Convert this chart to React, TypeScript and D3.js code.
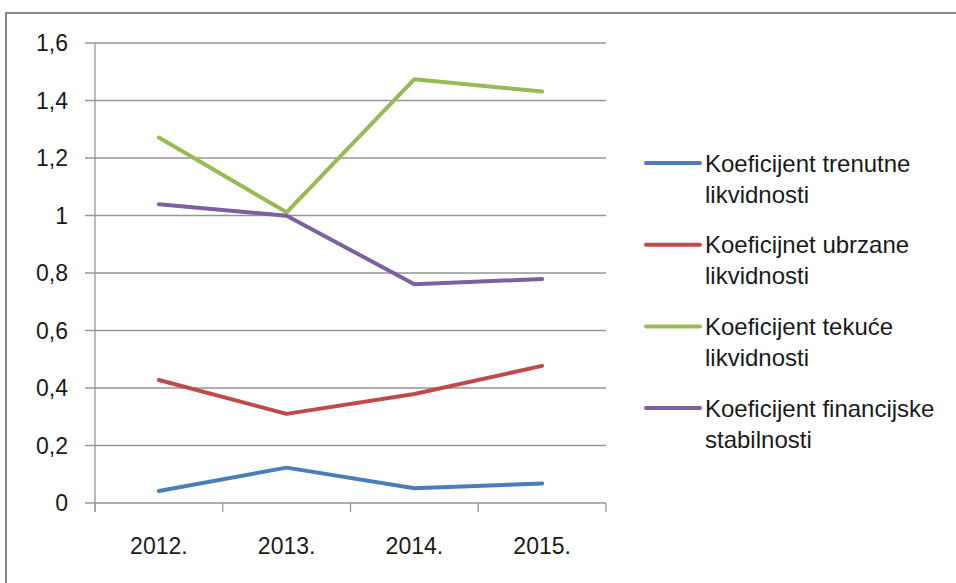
import React from "react";
import * as d3 from "d3";

const categories = ["2012.", "2013.", "2014.", "2015."];
const yTicks = [0, 0.2, 0.4, 0.6, 0.8, 1, 1.2, 1.4, 1.6];
const seriesNames = [
  ["Koeficijent trenutne", "likvidnosti"],
  ["Koeficijnet ubrzane", "likvidnosti"],
  ["Koeficijent tekuće", "likvidnosti"],
  ["Koeficijent financijske", "stabilnosti"],
];
const trenutne = [0.042, 0.123, 0.051, 0.068];
const ubrzane = [0.428, 0.31, 0.379, 0.477];
const tekuce = [1.271, 1.011, 1.474, 1.431];
const stabilnosti = [1.039, 0.999, 0.761, 0.779];
const colors = ["#4A7EBB", "#BE4B48", "#98B954", "#7D60A0"];

export default function App() {
  const W = 956, H = 583;
  const left = 95, right = 606, top = 43, bottom = 503;
  const x = d3.scaleBand<string>().domain(categories).range([left, right]);
  const y = d3.scaleLinear().domain([0, 1.6]).range([bottom, top]);
  const all = [trenutne, ubrzane, tekuce, stabilnosti];
  const line = d3
    .line<number>()
    .x((_, i) => (x(categories[i]) as number) + x.bandwidth() / 2)
    .y((d) => y(d));
  const font = "'Liberation Sans', Arial, sans-serif";
  const fmt = (v: number) => String(v).replace(".", ",");
  const legendX = 646, legendY0 = 163, legendStep = 81.7;
  const xTickPos = [...categories.map((c) => x(c) as number), right];
  const fs = 23;
  const lfs = 24;
  return (
    <svg width={W} height={H} style={{ position: "absolute", left: 0, top: 0 }}>
      <rect x={0} y={0} width={W} height={H} fill="#fff" />
      <rect x={6} y={13} width={W + 20} height={H + 20} fill="#fff" stroke="#888" strokeWidth={2} />
      {yTicks.map((t) => (
        <g key={t}>
          <line x1={left - 10} x2={right} y1={y(t)} y2={y(t)} stroke="#969696" strokeWidth={1.3} />
          <text x={68} y={y(t)} dy="0.36em" textAnchor="end" fontFamily={font} fontSize={fs} fill="#1a1a1a">
            {fmt(t)}
          </text>
        </g>
      ))}
      <line x1={left} x2={left} y1={top} y2={bottom + 9} stroke="#969696" strokeWidth={1.3} />
      {xTickPos.map((p, i) => (
        <line key={i} x1={p} x2={p} y1={bottom} y2={bottom + 9} stroke="#969696" strokeWidth={1.3} />
      ))}
      {categories.map((c) => (
        <text key={c} x={(x(c) as number) + x.bandwidth() / 2} y={546} dy="0.36em" textAnchor="middle" fontFamily={font} fontSize={fs} fill="#1a1a1a">
          {c}
        </text>
      ))}
      {all.map((s, i) => (
        <path key={i} d={line(s) || ""} fill="none" stroke={colors[i]} strokeWidth={4} strokeLinejoin="round" strokeLinecap="round" />
      ))}
      {seriesNames.map((n, i) => {
        const ly = legendY0 + i * legendStep;
        return (
          <g key={i}>
            <line x1={legendX} x2={legendX + 54} y1={ly} y2={ly} stroke={colors[i]} strokeWidth={4} strokeLinecap="round" />
            <text x={705} y={ly} dy="0.36em" fontFamily={font} fontSize={lfs} fill="#1a1a1a">{n[0]}</text>
            <text x={705} y={ly + 31} dy="0.36em" fontFamily={font} fontSize={lfs} fill="#1a1a1a">{n[1]}</text>
          </g>
        );
      })}
    </svg>
  );
}
